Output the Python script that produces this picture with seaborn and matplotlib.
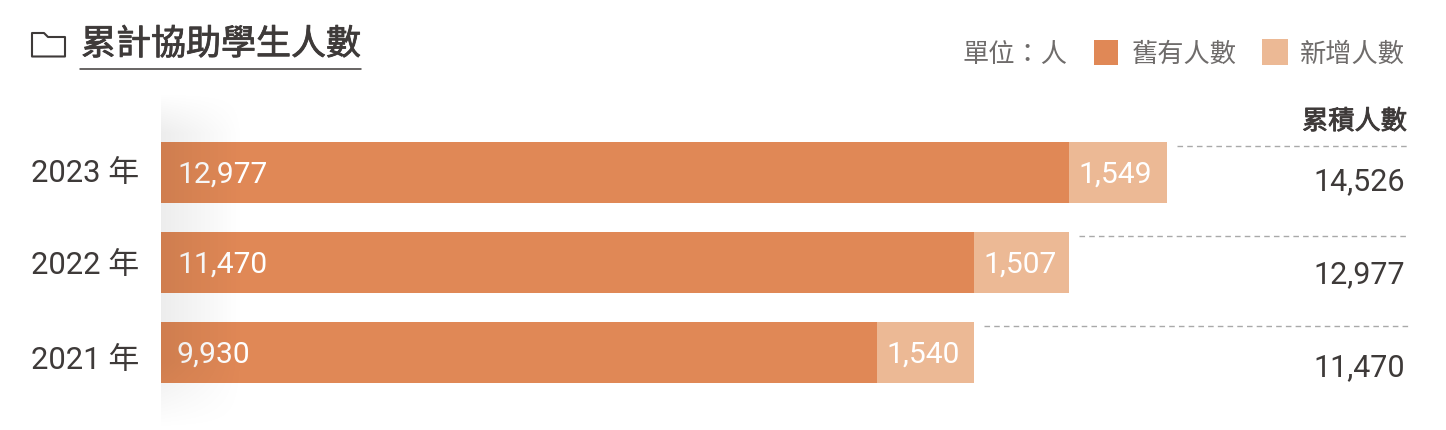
# Cumulative assisted students chart, stacked horizontal bars
import numpy as np
import pandas as pd
import matplotlib
matplotlib.use("Agg")
import matplotlib.pyplot as plt
import matplotlib.patheffects as pe
import seaborn as sns
from matplotlib.patches import Rectangle, PathPatch
from matplotlib.path import Path
from matplotlib.transforms import Affine2D

years = ["2023 年", "2022 年", "2021 年"]
existing = [12977, 11470, 9930]
added = [1549, 1507, 1540]
totals = [14526, 12977, 11470]
legend_labels = ["舊有人數", "新增人數"]

DARK = "#E08856"
LIGHT = "#ECB995"
INK = "#3E3A39"
GREY = "#6F6C6B"

sns.set_theme(style="white")
plt.rcParams["font.family"] = ["Roboto", "Noto Sans CJK TC", "DejaVu Sans"]

W, H = 1446, 430
fig = plt.figure(figsize=(W / 100, H / 100), dpi=100)
# pixel coordinates, origin top left, for the page furniture
px = Affine2D().scale(1 / W, -1 / H).translate(0, 1) + fig.transFigure
heavier = [pe.withStroke(linewidth=0.6, foreground=INK)]


def box(x0, y0, x1, y1):
    return [x0 / W, 1 - y1 / H, (x1 - x0) / W, (y1 - y0) / H]


ax = fig.add_axes(box(161, 127.5, W, 397.5))

df = pd.DataFrame({"year": years, "existing": existing, "total": totals})

# the original axis starts below zero, so bars get a fixed lead before the scale
LEAD = 1417
ax.set_xscale(
    "function",
    functions=(
        lambda v: np.where(np.asarray(v) > 0, np.asarray(v) + LEAD, 0.0),
        lambda u: np.where(np.asarray(u) > 0, np.asarray(u) - LEAD, 0.0),
    ),
)

sns.barplot(data=df, y="year", x="total", color=LIGHT, saturation=1, width=0.678, linewidth=0, ax=ax)
sns.barplot(data=df, y="year", x="existing", color=DARK, saturation=1, width=0.678, linewidth=0, ax=ax)

ax.set_xlim(0, (W - 161) / 0.0631 - LEAD)
ax.set_ylim(2.5, -0.5)
ax.axis("off")

# value labels and dashed leaders
end_x = 18345
# the page drifts a little down each row, in pixels
year_drift = [1, 3, 8]
total_drift = [9, 12, 15]
for i, year in enumerate(years):
    ax.annotate(f"{existing[i]:,}", xy=(0, i), xytext=(16, -2), textcoords="offset pixels",
                color="white", fontsize=21.6, va="center", ha="left", annotation_clip=False)
    ax.annotate(f"{added[i]:,}", xy=(existing[i], i), xytext=(9, -2), textcoords="offset pixels",
                color="white", fontsize=21.6, va="center", ha="left")
    ax.plot([totals[i] + 160, end_x], [i - 0.3, i - 0.3], color="#A9A9A9", lw=1,
            dashes=(4, 3))
    ax.annotate(f"{totals[i]:,}", xy=(end_x, i), xytext=(-3, -total_drift[i]),
                textcoords="offset pixels", color=INK, fontsize=22, va="center", ha="right",
                annotation_clip=False)
    ax.annotate(year, xy=(0, i), xytext=(-22, -year_drift[i]), textcoords="offset pixels",
                color=INK, fontsize=22.3, va="center", ha="right", annotation_clip=False)

# soft shadow over the left end of the bars
shade = fig.add_axes(box(161, 92, 245, 430), zorder=1)
shade.patch.set_visible(False)
shade.axis("off")
xx = np.linspace(0, 1, 84)
yy = np.linspace(0, 1, 338)
fade_x = 1 - xx
fade_y = np.clip(yy / 0.12, 0, 1) * np.clip((1 - yy) / 0.2, 0, 1)
rgba = np.zeros((338, 84, 4))
rgba[..., 3] = 0.075 * np.outer(fade_y, fade_x)
shade.imshow(rgba, aspect="auto", interpolation="bilinear")

# title with folder icon and underline
fig.text(81, 45, "累計協助學生人數", transform=px, color=INK, fontsize=25.2, va="center",
         ha="left", path_effects=heavier)
fig.add_artist(plt.Line2D([80, 361], [69, 69], transform=px, color=INK, lw=1.1))
folder = Path(
    [(32, 33), (44, 33), (48, 37), (65, 37), (65, 56.5), (32, 56.5), (32, 33)],
    [Path.MOVETO] + [Path.LINETO] * 5 + [Path.CLOSEPOLY],
)
fig.add_artist(PathPatch(folder, transform=px, fc="none", ec=INK, lw=1.5, joinstyle="round"))

# unit and legend
fig.text(963, 55, "單位：人", transform=px, color=GREY, fontsize=18.9, va="center", ha="left")
fig.add_artist(Rectangle((1094, 40), 24, 25, transform=px, fc=DARK, ec="none"))
fig.text(1132, 55, legend_labels[0], transform=px, color=GREY, fontsize=18.9, va="center", ha="left")
fig.add_artist(Rectangle((1262, 39), 26, 26, transform=px, fc=LIGHT, ec="none"))
fig.text(1300, 55, legend_labels[1], transform=px, color=GREY, fontsize=18.9, va="center", ha="left")

fig.text(1407, 122, "累積人數", transform=px, color=INK, fontsize=18.9, va="center", ha="right",
         path_effects=heavier)

fig.savefig("out.png", dpi=100)
